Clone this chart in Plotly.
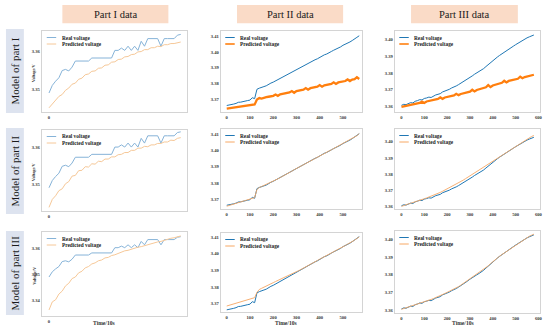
import plotly.graph_objects as go

W, H = 550, 330
SERIF = "Liberation Serif"

COL_TITLES = ["Part I data", "Part II data", "Part III data"]
ROW_TITLES = ["Model of part I", "Model of part II", "Model of part III"]
SERIES_NAMES = ["Real voltage", "Predicted voltage"]
X_TITLE = "Time/10s"
Y_TITLE = "Voltage/V"

# ---- Part I data (time in 10 s steps) ----
T1 = list(range(0, 81, 2))
REAL_1 = [3.3490, 3.3510, 3.3521, 3.3530, 3.3549, 3.3552, 3.3548, 3.3558, 3.3574, 3.3574,
          3.3574, 3.3574, 3.3574, 3.3582, 3.3582, 3.3582, 3.3582, 3.3582, 3.3582, 3.3582,
          3.3602, 3.3602, 3.3608, 3.3602, 3.3613, 3.3602, 3.3613, 3.3602, 3.3626, 3.3613,
          3.3633, 3.3633, 3.3633, 3.3633, 3.3613, 3.3633, 3.3633, 3.3633, 3.3633, 3.3642,
          3.3644]
PRED_1_M1 = [3.3451, 3.3462, 3.3470, 3.3481, 3.3486, 3.3497, 3.3503, 3.3513, 3.3516, 3.3526,
             3.3529, 3.3538, 3.3540, 3.3547, 3.3548, 3.3555, 3.3556, 3.3563, 3.3564, 3.3571,
             3.3572, 3.3578, 3.3579, 3.3585, 3.3586, 3.3591, 3.3592, 3.3598, 3.3599, 3.3604,
             3.3604, 3.3609, 3.3609, 3.3613, 3.3612, 3.3617, 3.3617, 3.3620, 3.3620, 3.3623,
             3.3624]
PRED_1_M2 = [3.3436, 3.3458, 3.3468, 3.3482, 3.3487, 3.3501, 3.3507, 3.3522, 3.3524, 3.3537,
             3.3538, 3.3548, 3.3547, 3.3556, 3.3555, 3.3563, 3.3562, 3.3569, 3.3569, 3.3575,
             3.3575, 3.3581, 3.3582, 3.3587, 3.3587, 3.3593, 3.3593, 3.3599, 3.3599, 3.3604,
             3.3603, 3.3608, 3.3608, 3.3612, 3.3612, 3.3616, 3.3616, 3.3621, 3.3620, 3.3626,
             3.3628]
PRED_1_M3 = [3.3364, 3.3395, 3.3403, 3.3425, 3.3436, 3.3456, 3.3466, 3.3484, 3.3490, 3.3506,
             3.3512, 3.3525, 3.3530, 3.3540, 3.3544, 3.3552, 3.3555, 3.3563, 3.3565, 3.3572,
             3.3575, 3.3581, 3.3584, 3.3590, 3.3592, 3.3597, 3.3599, 3.3604, 3.3606, 3.3610,
             3.3613, 3.3617, 3.3619, 3.3624, 3.3626, 3.3631, 3.3633, 3.3638, 3.3640, 3.3644,
             3.3647]

# ---- Part II data ----
T2 = list(range(0, 571, 10))
REAL_2 = [3.3663, 3.3665, 3.3668, 3.3672, 3.3676, 3.3683, 3.3684, 3.3686, 3.3690, 3.3694,
          3.3697, 3.3712, 3.3706, 3.3765, 3.3772, 3.3775, 3.3782, 3.3787, 3.3797, 3.3804,
          3.3810, 3.3818, 3.3826, 3.3835, 3.3840, 3.3850, 3.3856, 3.3866, 3.3872, 3.3883,
          3.3890, 3.3896, 3.3906, 3.3912, 3.3921, 3.3927, 3.3936, 3.3942, 3.3951, 3.3957,
          3.3967, 3.3972, 3.3982, 3.3987, 3.3997, 3.4003, 3.4011, 3.4017, 3.4027, 3.4032,
          3.4042, 3.4048, 3.4057, 3.4063, 3.4072, 3.4080, 3.4092, 3.4102]
PRED_2_M1 = [3.3643, 3.3645, 3.3648, 3.3650, 3.3652, 3.3654, 3.3656, 3.3658, 3.3660, 3.3662,
             3.3664, 3.3667, 3.3670, 3.3700, 3.3710, 3.3706, 3.3712, 3.3715, 3.3718, 3.3721,
             3.3724, 3.3732, 3.3724, 3.3733, 3.3736, 3.3739, 3.3742, 3.3745, 3.3754, 3.3743,
             3.3754, 3.3757, 3.3760, 3.3763, 3.3773, 3.3763, 3.3772, 3.3775, 3.3778, 3.3781,
             3.3791, 3.3781, 3.3790, 3.3793, 3.3796, 3.3799, 3.3809, 3.3799, 3.3808, 3.3811,
             3.3814, 3.3817, 3.3827, 3.3817, 3.3826, 3.3829, 3.3841, 3.3830]
PRED_2_M2 = [3.3657, 3.3662, 3.3667, 3.3671, 3.3675, 3.3680, 3.3684, 3.3688, 3.3692, 3.3696,
             3.3700, 3.3705, 3.3710, 3.3760, 3.3772, 3.3778, 3.3784, 3.3790, 3.3797, 3.3804,
             3.3811, 3.3818, 3.3825, 3.3833, 3.3840, 3.3848, 3.3856, 3.3864, 3.3872, 3.3881,
             3.3889, 3.3897, 3.3905, 3.3912, 3.3920, 3.3928, 3.3935, 3.3943, 3.3951, 3.3958,
             3.3966, 3.3973, 3.3981, 3.3988, 3.3996, 3.4003, 3.4011, 3.4018, 3.4026, 3.4033,
             3.4041, 3.4048, 3.4056, 3.4064, 3.4072, 3.4080, 3.4090, 3.4103]
PRED_2_M3 = [3.3686, 3.3690, 3.3694, 3.3698, 3.3703, 3.3707, 3.3711, 3.3716, 3.3720, 3.3724,
             3.3728, 3.3732, 3.3736, 3.3768, 3.3785, 3.3792, 3.3798, 3.3804, 3.3812, 3.3819,
             3.3826, 3.3833, 3.3840, 3.3847, 3.3854, 3.3861, 3.3867, 3.3874, 3.3880, 3.3886,
             3.3892, 3.3898, 3.3905, 3.3912, 3.3920, 3.3928, 3.3936, 3.3944, 3.3951, 3.3959,
             3.3967, 3.3974, 3.3982, 3.3989, 3.3997, 3.4004, 3.4012, 3.4019, 3.4027, 3.4034,
             3.4042, 3.4049, 3.4057, 3.4064, 3.4072, 3.4081, 3.4091, 3.4101]

# ---- Part III data ----
T3 = list(range(0, 581, 10))
REAL_3 = [3.3606, 3.3612, 3.3610, 3.3618, 3.3622, 3.3620, 3.3630, 3.3634, 3.3640, 3.3638,
          3.3647, 3.3650, 3.3655, 3.3653, 3.3662, 3.3668, 3.3672, 3.3676, 3.3686, 3.3690,
          3.3698, 3.3702, 3.3710, 3.3714, 3.3722, 3.3730, 3.3738, 3.3748, 3.3758, 3.3765,
          3.3775, 3.3782, 3.3792, 3.3800, 3.3808, 3.3816, 3.3826, 3.3838, 3.3850, 3.3862,
          3.3876, 3.3886, 3.3895, 3.3905, 3.3915, 3.3924, 3.3932, 3.3941, 3.3950, 3.3960,
          3.3969, 3.3978, 3.3987, 3.3995, 3.4003, 3.4010, 3.4016, 3.4022, 3.4027]
PRED_3_M1 = [3.3596, 3.3599, 3.3602, 3.3605, 3.3608, 3.3611, 3.3614, 3.3617, 3.3620, 3.3628,
             3.3620, 3.3629, 3.3632, 3.3635, 3.3638, 3.3641, 3.3644, 3.3653, 3.3645, 3.3653,
             3.3656, 3.3659, 3.3662, 3.3665, 3.3675, 3.3667, 3.3674, 3.3677, 3.3680, 3.3684,
             3.3688, 3.3699, 3.3689, 3.3698, 3.3702, 3.3706, 3.3710, 3.3714, 3.3727, 3.3715,
             3.3725, 3.3729, 3.3733, 3.3737, 3.3741, 3.3753, 3.3743, 3.3752, 3.3756, 3.3759,
             3.3762, 3.3765, 3.3777, 3.3768, 3.3775, 3.3778, 3.3783, 3.3786, 3.3789]
PRED_3_M2 = [3.3602, 3.3608, 3.3612, 3.3617, 3.3621, 3.3625, 3.3630, 3.3635, 3.3640, 3.3644,
             3.3649, 3.3654, 3.3659, 3.3664, 3.3670, 3.3676, 3.3682, 3.3688, 3.3695, 3.3702,
             3.3709, 3.3716, 3.3723, 3.3730, 3.3738, 3.3746, 3.3754, 3.3763, 3.3772, 3.3781,
             3.3790, 3.3799, 3.3808, 3.3817, 3.3826, 3.3835, 3.3844, 3.3853, 3.3862, 3.3872,
             3.3882, 3.3891, 3.3900, 3.3909, 3.3918, 3.3927, 3.3936, 3.3945, 3.3954, 3.3963,
             3.3972, 3.3981, 3.3990, 3.3999, 3.4008, 3.4016, 3.4024, 3.4032, 3.4038]
PRED_3_M3 = [3.3604, 3.3608, 3.3612, 3.3616, 3.3620, 3.3624, 3.3629, 3.3634, 3.3638, 3.3642,
             3.3646, 3.3651, 3.3656, 3.3660, 3.3665, 3.3670, 3.3676, 3.3682, 3.3688, 3.3694,
             3.3700, 3.3706, 3.3712, 3.3718, 3.3725, 3.3733, 3.3741, 3.3750, 3.3759, 3.3768,
             3.3777, 3.3785, 3.3793, 3.3801, 3.3810, 3.3819, 3.3829, 3.3840, 3.3851, 3.3863,
             3.3875, 3.3886, 3.3896, 3.3906, 3.3915, 3.3924, 3.3933, 3.3942, 3.3951, 3.3960,
             3.3969, 3.3978, 3.3987, 3.3996, 3.4004, 3.4012, 3.4019, 3.4025, 3.4031]

TIMES = [T1, T2, T3]
REALS = [REAL_1, REAL_2, REAL_3]
PREDS = [[PRED_1_M1, PRED_2_M1, PRED_3_M1],
         [PRED_1_M2, PRED_2_M2, PRED_3_M2],
         [PRED_1_M3, PRED_2_M3, PRED_3_M3]]

# ---- layout geometry (pixels) ----
COL_X = [(42, 188), (222, 364), (397, 543)]
ROW_Y = [[(31, 112), (31, 112), (31, 112)],
         [(130, 211), (129, 209), (129, 209)],
         [(232, 316), (233, 312), (231, 313)]]
X_RANGES = [[-4.4, 83.8], [-25.6, 582], [-29, 607]]
Y_RANGES = [[[3.3440, 3.3653], [3.3622, 3.4132], [3.3566, 3.4051]],
            [[3.3426, 3.3649], [3.3640, 3.4131], [3.3586, 3.4078]],
            [[3.3341, 3.3662], [3.3650, 3.4124], [3.3583, 3.4049]]]

def px(x):
    return x / W

def py(y):
    return 1 - y / H

fig = go.Figure()
shapes = []
annotations = []
layout_axes = {}

tickfont = dict(family=SERIF, size=4.6, color="#333333", weight="bold")

for r in range(3):
    for c in range(3):
        n = r * 3 + c + 1
        xs = "" if n == 1 else str(n)
        x0, x1 = COL_X[c]
        y0, y1 = ROW_Y[r][c]
        if c == 0:
            real_col, pred_col, pw, rw = "#86b3d8", "#f6c898", 1.0, 1.0
        else:
            real_col, rw = "#1f77b4", 1.0
            if r == 0:
                pred_col, pw = "#ff7f0e", 2.3
            else:
                pred_col, pw = "#f7a865", 1.0
        fig.add_trace(go.Scatter(x=TIMES[c], y=REALS[c], mode="lines", name=SERIES_NAMES[0],
                                 line=dict(color=real_col, width=rw), showlegend=False,
                                 xaxis="x" + xs, yaxis="y" + xs))
        fig.add_trace(go.Scatter(x=TIMES[c], y=PREDS[r][c], mode="lines", name=SERIES_NAMES[1],
                                 line=dict(color=pred_col, width=pw), showlegend=False,
                                 opacity=0.9 if (c > 0 and r > 0) else 1.0,
                                 xaxis="x" + xs, yaxis="y" + xs))
        xa = dict(domain=[px(x0), px(x1)], range=X_RANGES[c], anchor="y" + xs,
                  showgrid=False, zeroline=False, showline=True, mirror=True,
                  linecolor="#d4d4d4", linewidth=1, ticks="", tickfont=tickfont)
        if c == 0:
            xa.update(tickvals=[0])
        else:
            xa.update(dtick=100, tick0=0)
        ya = dict(domain=[py(y1), py(y0)], range=Y_RANGES[r][c], anchor="x" + xs,
                  showgrid=False, zeroline=False, showline=True, mirror=True,
                  linecolor="#d4d4d4", linewidth=1, ticks="", tickfont=tickfont,
                  dtick=0.01, tick0=3.30, tickformat=".2f")
        layout_axes["xaxis" + xs] = xa
        layout_axes["yaxis" + xs] = ya

        # legend glyphs (inside each panel, top-left)
        lx0 = x0 + 5 if c == 0 else x0 + 4.5
        lx1 = lx0 + 9.5
        ly_real = y0 + 6.5
        ly_pred = y0 + 13
        shapes.append(dict(type="line", xref="paper", yref="paper",
                           x0=px(lx0), x1=px(lx1), y0=py(ly_real), y1=py(ly_real),
                           line=dict(color=real_col, width=1)))
        shapes.append(dict(type="line", xref="paper", yref="paper",
                           x0=px(lx0), x1=px(lx1), y0=py(ly_pred), y1=py(ly_pred),
                           line=dict(color=pred_col, width=1.6 if (c > 0 and r == 0) else 1)))
        for txt, ly in ((SERIES_NAMES[0], ly_real), (SERIES_NAMES[1], ly_pred)):
            annotations.append(dict(text=txt, x=px(lx1 + 3.5), y=py(ly), xref="paper", yref="paper",
                                    xanchor="left", yanchor="middle", showarrow=False,
                                    font=dict(family=SERIF, size=5.3, color="#222222", weight="bold")))
        # y-axis title for first column
        if c == 0:
            annotations.append(dict(text=Y_TITLE, x=px(34), y=py((y0 + y1) / 2 + 1), xref="paper",
                                    yref="paper", textangle=-90, showarrow=False,
                                    xanchor="center", yanchor="middle",
                                    font=dict(family=SERIF, size=4.3, color="#333333", weight="bold")))

# x-axis titles below bottom row
for cx in (105, 288, 466):
    annotations.append(dict(text=X_TITLE, x=px(cx), y=py(322.5), xref="paper", yref="paper",
                            showarrow=False, xanchor="center", yanchor="middle",
                            font=dict(family=SERIF, size=5.6, color="#333333", weight="bold")))

# column header boxes
HEAD_X = [(62.7, 169.3), (238.3, 345), (413.3, 520.7)]
for (hx0, hx1), title in zip(HEAD_X, COL_TITLES):
    shapes.append(dict(type="rect", xref="paper", yref="paper", layer="below",
                       x0=px(hx0), x1=px(hx1), y0=py(23.3), y1=py(5),
                       fillcolor="#fadbc7", line=dict(width=0)))
    annotations.append(dict(text=title, x=px((hx0 + hx1) / 2), y=py(14.3), xref="paper",
                            yref="paper", showarrow=False, xanchor="center", yanchor="middle",
                            font=dict(family=SERIF, size=10.5, color="#1a1a1a")))

# row label boxes
ROW_BOX = [(29, 113), (128, 214), (231, 315)]
for (ry0, ry1), title in zip(ROW_BOX, ROW_TITLES):
    shapes.append(dict(type="rect", xref="paper", yref="paper", layer="below",
                       x0=px(6), x1=px(24), y0=py(ry1), y1=py(ry0),
                       fillcolor="#dde3ef", line=dict(width=0)))
    annotations.append(dict(text=title, x=px(15.5), y=py((ry0 + ry1) / 2), xref="paper",
                            yref="paper", showarrow=False, textangle=-90,
                            xanchor="center", yanchor="middle",
                            font=dict(family=SERIF, size=11, color="#1a1a1a")))

fig.update_layout(width=W, height=H, margin=dict(l=0, r=0, t=0, b=0),
                  paper_bgcolor="white", plot_bgcolor="white", showlegend=False,
                  shapes=shapes, annotations=annotations, **layout_axes)

fig.write_html("out.html", config={"displayModeBar": False},
               post_script="document.body.style.margin='0';document.body.style.overflow='hidden';")
